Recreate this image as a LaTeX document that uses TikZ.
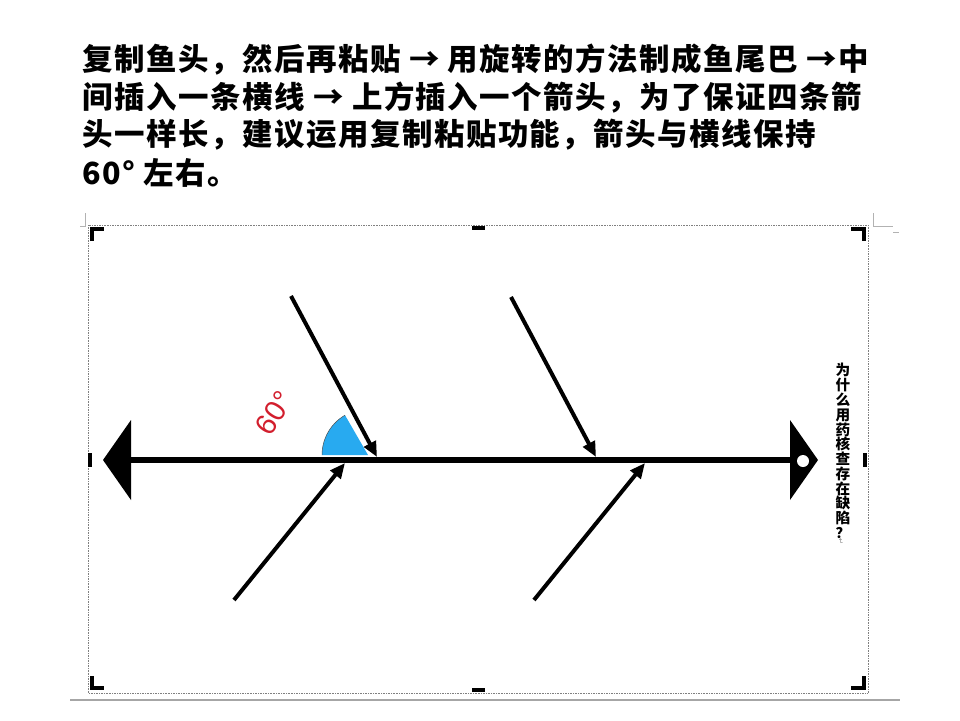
\documentclass[tikz,border=0pt]{standalone}
\usepackage{fontspec}
\setmainfont{Liberation Sans}
\newfontfamily\cjktitre[LetterSpace=5]{Noto Sans CJK SC}
\newfontfamily\cjk{Noto Sans CJK SC}
\newfontfamily\symb{DejaVu Sans}
\usetikzlibrary{arrows.meta,positioning}
\definecolor{bleuangle}{RGB}{40,170,240}
\definecolor{rougeangle}{RGB}{210,30,45}

\begin{document}
\begin{tikzpicture}[x=0.03cm,y=-0.03cm,
  bone/.style={line width=3.4pt,-{Triangle[length=13pt,width=11pt]}},
  cropmark/.style={line width=2.6pt},
  titre/.style={anchor=west,inner sep=0pt,font=\cjktitre\bfseries\fontsize{26pt}{30pt}\selectfont}]
 \useasboundingbox (0,0) rectangle (960,720);

	% Texte
 \node[titre] (l1) at (82,60) {复制鱼头，然后再粘贴 → 用旋转的方法制成鱼尾巴 →中};
 \node[titre] (l2) at (82,98) {间插入一条横线 → 上方插入一个箭头，为了保证四条箭};
 \node[titre] (l3) at (82,135) {头一样长，建议运用复制粘贴功能，箭头与横线保持};
 \node[titre] (l4) at (82,173) {60° 左右。};

	% Cadre
 \draw[gray, densely dotted] (88,225) rectangle (868,693);
 \draw[gray!60] (80,226) -- (85,226) -- (85,213);
 \draw[gray!60] (873,213) -- (873,226) -- (893,226);
 \draw[gray!60] (893,232) -- (899,232);
 \draw[gray!70, line width=1.3pt] (70,700) -- (900,700);
 \draw[cropmark] (92,241) -- (92,229) -- (104,229);
 \draw[cropmark] (851,229) -- (864,229) -- (864,241);
 \draw[cropmark] (92,676) -- (92,688) -- (104,688);
 \draw[cropmark] (851,688) -- (864,688) -- (864,676);
 \draw[cropmark] (472,228) -- (485,228);
 \draw[cropmark] (472,690) -- (485,690);
 \draw[cropmark] (90,453) -- (90,467);
 \draw[cropmark] (865,453) -- (865,467);

	% Arete centrale
 \coordinate (queue) at (131,460);
 \coordinate (tete) at (790,460);
 \draw[line width=5pt] (queue) -- (tete);
 \fill (131,420) -- (103,460) -- (131,500) -- cycle;
 \fill (790,420) -- (818,460) -- (790,500) -- cycle;
 \fill[white] (803,461) circle[radius=6];

	% Angle
 \fill[bleuangle] (368,455) -- (322,455) arc[start angle=180, end angle=240, radius=46] -- cycle;
 \draw[black!70, thin] (322,455) arc[start angle=180, end angle=240, radius=46];
 \node[rotate=57, text=rougeangle, font=\fontsize{25pt}{28pt}\selectfont] (angle) at (274,413) {60°};

	% Aretes
 \coordinate (h1) at (291,296);
 \coordinate (p1) at (377,457);
 \coordinate (h2) at (511,297);
 \coordinate (p2) at (596,457);
 \coordinate (b1) at (234,600);
 \coordinate (q1) at (345,463);
 \coordinate (b2) at (534,600);
 \coordinate (q2) at (645,463);
 \draw[bone] (h1) -- (p1);
 \draw[bone] (h2) -- (p2);
 \draw[bone] (b1) -- (q1);
 \draw[bone] (b2) -- (q2);

	% Probleme
 \node[inner sep=0pt, align=center, font=\cjk\bfseries\fontsize{12.5pt}{12.6pt}\selectfont] (probleme) at (843,451)
   {为\\什\\么\\用\\药\\核\\查\\存\\在\\缺\\陷\\？};
 \node[below=2pt of probleme, inner sep=0pt, rotate=-90, text=gray, font=\symb\fontsize{6pt}{6pt}\selectfont] (retour) {↵};

\end{tikzpicture}
\end{document}
